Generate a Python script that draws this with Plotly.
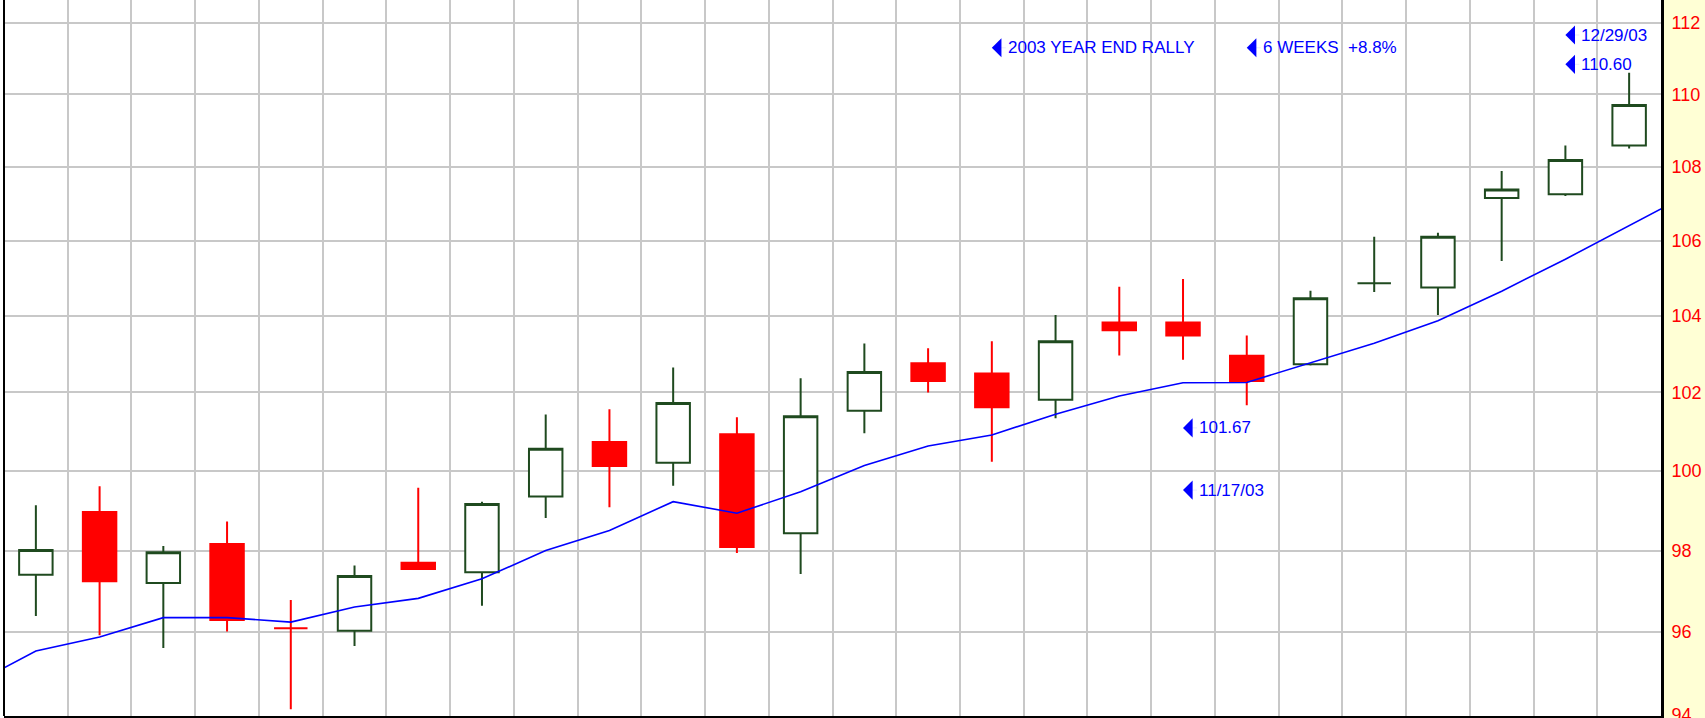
import math
import plotly.graph_objects as go

# ---------------- data ----------------
dates = ["2003-07-07", "2003-07-14", "2003-07-21", "2003-07-28", "2003-08-04", "2003-08-11",
         "2003-08-18", "2003-08-25", "2003-09-01", "2003-09-08", "2003-09-15", "2003-09-22",
         "2003-09-29", "2003-10-06", "2003-10-13", "2003-10-20", "2003-10-27", "2003-11-03",
         "2003-11-10", "2003-11-17", "2003-11-24", "2003-12-01", "2003-12-08", "2003-12-15",
         "2003-12-22", "2003-12-29"]
open_ = [97.40, 98.96, 97.20, 98.16, 96.09, 96.03, 97.70, 97.46, 99.35, 100.73, 100.20, 100.93, 98.43,
         101.53, 102.76, 102.49, 101.81, 103.82, 103.82, 102.95, 102.73, 104.86, 104.75, 107.15, 107.25, 108.58]
high = [99.13, 99.61, 98.11, 98.72, 96.78, 97.63, 99.57, 99.22, 101.43, 101.57, 102.65, 101.36, 102.37,
        103.27, 103.15, 103.33, 104.02, 104.77, 104.97, 103.48, 104.66, 106.10, 106.21, 107.88, 108.58, 110.60]
low = [96.39, 95.92, 95.61, 96.01, 94.14, 95.66, 97.52, 96.64, 98.81, 99.08, 99.62, 97.94, 97.42,
       100.95, 102.00, 100.23, 101.34, 102.96, 102.85, 101.67, 102.70, 104.63, 104.02, 105.45, 107.20, 108.50]
close = [98.01, 97.24, 97.96, 96.29, 96.09, 97.37, 97.54, 99.16, 100.56, 100.12, 101.73, 98.09, 101.39,
         102.53, 102.30, 101.62, 103.33, 103.62, 103.48, 102.30, 104.46, 104.86, 106.10, 107.38, 108.18, 109.70]

ma_dates = ["2003-06-30"] + dates + ["2004-01-05"]
ma_values = [94.73, 95.54, 95.88, 96.35, 96.35, 96.24, 96.61, 96.82, 97.30, 98.00, 98.50, 99.22, 98.93,
             99.47, 100.13, 100.63, 100.91, 101.44, 101.91, 102.25, 102.26, 102.76, 103.28, 103.87,
             104.65, 105.50, 106.41, 107.31]

y_ticks = [94, 96, 98, 100, 102, 104, 106, 108, 110, 112]

# annotation texts and their anchor (date, value)
notes = [
    ("2003 YEAR END RALLY", "2003-10-20", 111.30),
    ("6 WEEKS\u00a0 +8.8%", "2003-11-17", 111.30),
    ("12/29/03", "2003-12-22", 111.66),
    (f"{high[-1]:.2f}", "2003-12-22", 110.835),
    (f"{low[19]:.2f}", "2003-11-10", 101.09),
    ("11/17/03", "2003-11-10", 99.51),
]

GREEN = "#1f4a1f"
RED = "#FF0000"
BLUE = "#0000FF"
GRID = "#C8C8C8"

fig = go.Figure()
fig.add_trace(go.Candlestick(
    x=dates, open=open_, high=high, low=low, close=close,
    increasing=dict(fillcolor="white", line=dict(color=GREEN, width=2)),
    decreasing=dict(fillcolor=RED, line=dict(color=RED, width=2)),
    whiskerwidth=0, showlegend=False, hoverinfo="skip",
))
fig.add_trace(go.Scatter(
    x=ma_dates, y=ma_values, mode="lines",
    line=dict(color=BLUE, width=1.6), showlegend=False, hoverinfo="skip",
))

annotations = []
for text, d, v in notes:
    annotations.append(dict(
        x=d, y=math.log10(v), xref="x", yref="y", text=text,
        showarrow=True, arrowhead=1, arrowsize=32, arrowwidth=0.1, arrowcolor=BLUE,
        ax=14, ay=0, xanchor="left", yanchor="middle",
        font=dict(family="Liberation Sans, Arial, sans-serif", size=17, color=BLUE),
    ))

fig.update_layout(
    width=1705, height=718,
    margin=dict(l=4, r=44, t=0, b=2, pad=0, autoexpand=False),
    paper_bgcolor="#FFFFD5", plot_bgcolor="white",
    boxgap=0.25, showlegend=False,
    xaxis=dict(
        type="date", range=["2003-07-03 12:00", "2004-01-01 12:00"],
        tick0="2003-07-10 12:00", dtick=604800000,
        showgrid=True, gridcolor=GRID, gridwidth=2,
        showticklabels=False, ticks="", zeroline=False, automargin=False,
        showline=True, linecolor="black", linewidth=2,
        rangeslider=dict(visible=False), fixedrange=True,
    ),
    yaxis=dict(
        type="log", side="right",
        range=[math.log10(93.98), math.log10(112.654)],
        tickvals=y_ticks, ticktext=[str(v) for v in y_ticks],
        tickfont=dict(family="Liberation Sans, Arial, sans-serif", size=18, color=RED),
        showgrid=True, gridcolor=GRID, gridwidth=2, zeroline=False, automargin=False,
        showline=True, linecolor="black", linewidth=3, ticks="",
        ticklabelstandoff=4, ticklabeloverflow="allow", fixedrange=True,
    ),
    annotations=annotations,
    shapes=[
        dict(type="rect", xref="paper", yref="paper", x0=-0.02, x1=0, y0=-0.02, y1=1.02,
             fillcolor="white", line=dict(width=0), layer="below"),
        dict(type="line", xref="paper", yref="paper", x0=0, x1=0, y0=0, y1=1,
             line=dict(color="black", width=2), layer="above"),
    ],
)

fig.write_html(
    "out.html", config={"displayModeBar": False},
    post_script=("document.body.style.margin='0';"
                 "document.body.style.overflow='hidden';"
                 "document.documentElement.style.overflow='hidden';"),
)
